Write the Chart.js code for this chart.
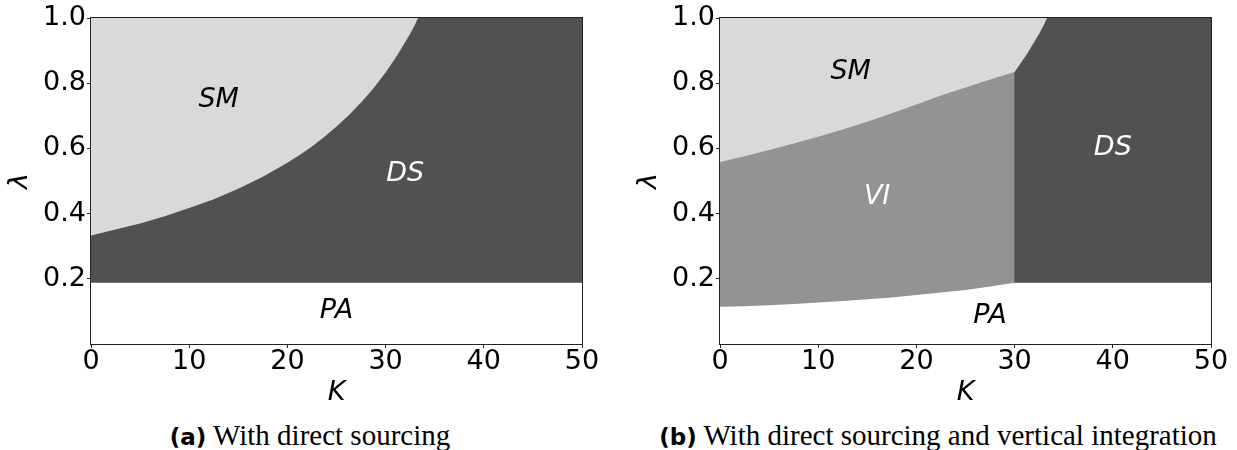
<!DOCTYPE html>
<html>
<head>
<meta charset="utf-8">
<script src="https://cdn.jsdelivr.net/npm/chart.js@4.4.0/dist/chart.umd.min.js"></script>
<style>
  html, body { margin: 0; padding: 0; background: #fff; }
  #wrap { position: relative; width: 1237px; height: 450px; overflow: hidden; }
  .panel { position: absolute; top: 0; width: 609px; height: 410px; }
  .caption {
    position: absolute; top: 420px; line-height: 30px; white-space: nowrap;
    font-family: 'Liberation Serif', serif; font-size: 29px; color: #000;
    transform: translateX(-50%);
  }
  .caption b { font-family: 'DejaVu Sans', sans-serif; font-size: 23px; }
</style>
</head>
<body>
<div id="wrap">
  <div class="panel" style="left:0"><canvas id="chart-a"></canvas></div>
  <div class="panel" style="left:629px"><canvas id="chart-b"></canvas></div>
  <div class="caption" style="left:310px"><b>(a)</b> With direct sourcing</div>
  <div class="caption" style="left:938px"><b>(b)</b> With direct sourcing and vertical integration</div>
</div>
<script>
// axis ticks
const xTicks = [0, 10, 20, 30, 40, 50];
const yTicks = [0.2, 0.4, 0.6, 0.8, 1.0];

// (a) boundary SM / DS
const dsEdgeK = [0, 2.5, 5, 7.5, 10, 12.5, 15, 17.5, 20, 21.25, 22.5, 23.75, 25, 26.25, 27.5, 28.75, 30, 31.25, 32, 32.5, 33, 33.3];
const dsEdgeLambda = [0.333, 0.351, 0.370, 0.392, 0.417, 0.444, 0.476, 0.513, 0.556, 0.580, 0.606, 0.635, 0.667, 0.702, 0.741, 0.784, 0.833, 0.889, 0.926, 0.952, 0.980, 1.0];
// participation threshold (PA below), same in both panels
const paEdgeK = [0, 50];
const paEdgeLambda = [0.188, 0.188];

// (b) boundary SM / VI up to K = 30, then SM / DS
const smEdgeK = [0, 2.5, 5, 7.5, 10, 12.5, 15, 17.5, 20, 22.5, 25, 27.5, 30, 31.25, 32, 32.5, 33, 33.3];
const smEdgeLambda = [0.558, 0.576, 0.595, 0.615, 0.636, 0.658, 0.682, 0.708, 0.735, 0.762, 0.787, 0.811, 0.834, 0.889, 0.926, 0.952, 0.980, 1.0];
// (b) boundary VI / PA, VI stops at K = 30
const viEdgeK = [0, 2.5, 5, 7.5, 10, 12.5, 15, 17.5, 20, 22.5, 25, 27.5, 30];
const viEdgeLambda = [0.114, 0.116, 0.119, 0.123, 0.127, 0.132, 0.137, 0.143, 0.150, 0.158, 0.166, 0.176, 0.188];

// region names and where they sit (K, lambda)
const regionsA = ['SM', 'DS', 'PA'];
const regionsAK = [13, 32, 25];
const regionsALambda = [0.75, 0.52, 0.10];
const regionsB = ['SM', 'VI', 'DS', 'PA'];
const regionsBK = [13.3, 16, 40, 27.5];
const regionsBLambda = [0.835, 0.45, 0.60, 0.085];

const SM_COLOR = '#d9d9d9';
const VI_COLOR = '#939393';
const DS_COLOR = '#515151';
const TEXT_COLOR = { SM: '#000', PA: '#000', DS: '#fff', VI: '#fff' };
const FONT = 'DejaVu Sans';

const zip = (xs, ys) => xs.map((x, i) => ({ x: x, y: ys[i] }));

// draws the italic region names
const regionText = {
    id: 'regionText',
    afterDatasetsDraw(chart, args, opts) {
        const { ctx, scales: { x, y } } = chart;
        ctx.save();
        ctx.font = 'italic 27px "' + FONT + '"';
        ctx.textAlign = 'center';
        ctx.textBaseline = 'middle';
        opts.names.forEach((name, i) => {
            ctx.fillStyle = TEXT_COLOR[name];
            ctx.fillText(name, x.getPixelForValue(opts.k[i]), y.getPixelForValue(opts.lambda[i]));
        });
        ctx.restore();
    }
};

// box round the plot area
const frame = {
    id: 'frame',
    afterDraw(chart) {
        const { ctx, chartArea: a } = chart;
        ctx.save();
        ctx.strokeStyle = '#222';
        ctx.lineWidth = 1;
        ctx.strokeRect(a.left - 0.5, a.top - 0.5, a.right - a.left + 1, a.bottom - a.top + 1);
        ctx.restore();
    }
};

function makeChart(id, datasets, names, ks, lambdas) {
    return new Chart(document.getElementById(id), {
        type: 'line',
        data: { datasets: datasets },
        plugins: [regionText, frame],
        options: {
            responsive: true,
            maintainAspectRatio: false,
            animation: false,
            layout: { padding: { top: 18, right: 27, left: 0, bottom: 0 } },
            elements: {
                point: { radius: 0 },
                line: { borderWidth: 0, tension: 0 }
            },
            plugins: {
                legend: { display: false },
                tooltip: { enabled: false },
                regionText: { names: names, k: ks, lambda: lambdas }
            },
            scales: {
                x: {
                    type: 'linear',
                    min: 0,
                    max: 50,
                    afterBuildTicks: s => { s.ticks = xTicks.map(v => ({ value: v })); },
                    afterFit: s => { s.height = 66; },
                    border: { display: false },
                    grid: { drawOnChartArea: false, tickLength: 4, color: '#222' },
                    ticks: {
                        padding: 0, color: '#000', maxRotation: 0,
                        font: { family: FONT, size: 27, lineHeight: 1 }
                    },
                    title: {
                        display: true, text: 'K', color: '#000',
                        font: { family: FONT, size: 27, style: 'italic', lineHeight: 1.2 },
                        padding: { top: 0, bottom: 1 }
                    }
                },
                y: {
                    type: 'linear',
                    min: 0,
                    max: 1,
                    afterBuildTicks: s => { s.ticks = yTicks.map(v => ({ value: v })); },
                    afterFit: s => { s.width = 91; },
                    border: { display: false },
                    grid: { drawOnChartArea: false, tickLength: 4, color: '#222' },
                    ticks: {
                        padding: 1, color: '#000',
                        font: { family: FONT, size: 27, lineHeight: 1 },
                        callback: v => v.toFixed(1)
                    },
                    title: {
                        display: true, text: 'λ', color: '#000',
                        font: { family: FONT, size: 27, style: 'italic', lineHeight: 1.2 },
                        padding: { top: 4, bottom: 0 }
                    }
                }
            }
        }
    });
}

// (a) With direct sourcing
makeChart('chart-a', [
    { data: zip(dsEdgeK, dsEdgeLambda), fill: 'end', backgroundColor: SM_COLOR },
    { data: zip(paEdgeK, paEdgeLambda), fill: 'end', backgroundColor: DS_COLOR }
], regionsA, regionsAK, regionsALambda);

// (b) With direct sourcing and vertical integration
// first dataset is drawn on top: SM, then VI, then DS above the PA threshold
makeChart('chart-b', [
    { data: zip(smEdgeK, smEdgeLambda), fill: 'end', backgroundColor: SM_COLOR },
    { data: zip(viEdgeK, viEdgeLambda), fill: 'end', backgroundColor: VI_COLOR },
    { data: zip(paEdgeK, paEdgeLambda), fill: 'end', backgroundColor: DS_COLOR }
], regionsB, regionsBK, regionsBLambda);
</script>
</body>
</html>
